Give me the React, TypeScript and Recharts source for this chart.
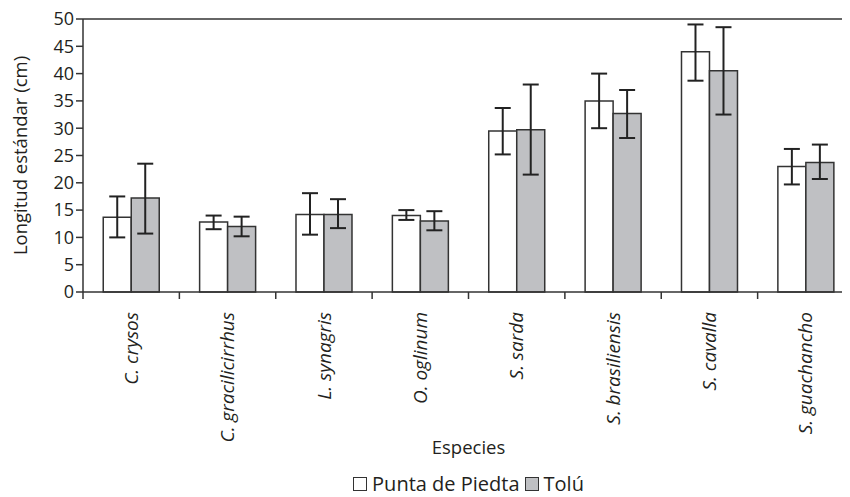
import {
  BarChart,
  Bar,
  XAxis,
  YAxis,
  ErrorBar,
  Legend,
  ReferenceLine,
} from "recharts";

const species = [
  "C. crysos",
  "C. gracilicirrhus",
  "L. synagris",
  "O. oglinum",
  "S. sarda",
  "S. brasiliensis",
  "S. cavalla",
  "S. guachancho",
];

// Punta de Piedta: media y limites de la barra de error
const punta = [13.7, 12.8, 14.2, 14.0, 29.5, 35.0, 44.0, 23.0];
const puntaLow = [10.0, 11.5, 10.5, 13.2, 25.2, 30.0, 38.7, 19.7];
const puntaHigh = [17.5, 14.0, 18.1, 15.0, 33.7, 40.0, 49.0, 26.2];

// Tolú
const tolu = [17.2, 12.0, 14.2, 13.0, 29.7, 32.7, 40.5, 23.7];
const toluLow = [10.7, 10.2, 11.7, 11.3, 21.5, 28.2, 32.5, 20.7];
const toluHigh = [23.5, 13.8, 17.0, 14.8, 38.0, 37.0, 48.5, 27.0];

const yTicks = [0, 5, 10, 15, 20, 25, 30, 35, 40, 45, 50];

const data = species.map((name, i) => ({
  name,
  punta: punta[i],
  puntaErr: [punta[i] - puntaLow[i], puntaHigh[i] - punta[i]],
  tolu: tolu[i],
  toluErr: [tolu[i] - toluLow[i], toluHigh[i] - tolu[i]],
}));

const FONT = "'Open Sans', sans-serif";
const INK = "#231f20";
const LINE = "#333";

function SpeciesTick(props: any) {
  const { x, y, width, visibleTicksCount, payload } = props;
  const half = width / visibleTicksCount / 2;
  return (
    <g>
      <line
        x1={x - half}
        x2={x - half}
        y1={y}
        y2={y + 7}
        stroke={LINE}
        strokeWidth={1.5}
      />
      <g transform={`translate(${x},${y})`}>
        <text
          transform="rotate(-90)"
          x={-20}
          y={0}
          dy="0.35em"
          textAnchor="end"
          fontStyle="italic"
          fontSize={19}
          fontFamily={FONT}
          fill={INK}
        >
          {payload.value}
        </text>
      </g>
    </g>
  );
}

function YLabel(props: any) {
  const { viewBox } = props;
  const cx = viewBox.x + 11;
  const cy = viewBox.y + viewBox.height / 2;
  return (
    <text
      x={cx}
      y={cy}
      transform={`rotate(-90, ${cx}, ${cy})`}
      textAnchor="middle"
      dominantBaseline="central"
      fontSize={18.5}
      fontFamily={FONT}
      fill={INK}
    >
      Longitud estándar (cm)
    </text>
  );
}

function LegendBox() {
  const box = (bg: string) => ({
    display: "inline-block",
    width: 12,
    height: 12,
    border: `1.5px solid ${LINE}`,
    background: bg,
    marginRight: 5,
  });
  return (
    <div
      style={{
        height: 22,
        lineHeight: 1,
        display: "flex",
        justifyContent: "center",
        alignItems: "center",
        fontFamily: FONT,
        fontSize: 20,
        color: INK,
      }}
    >
      <span style={box("#fff")} />
      <span style={{ marginRight: 5 }}>Punta de Piedta</span>
      <span style={box("#bfc0c3")} />
      <span>Tolú</span>
    </div>
  );
}

export default function App() {
  return (
    <div style={{ width: 842, overflow: "hidden", marginTop: -8 }}>
      <BarChart
        width={921}
        height={497}
        data={data}
        margin={{ top: 19, right: 75, left: 0, bottom: 2 }}
        barCategoryGap="21%"
        barGap={0}
      >
        <ReferenceLine y={50} stroke={LINE} strokeWidth={1.5} />
        <XAxis
          dataKey="name"
          height={181}
          interval={0}
          tickLine={false}
          tickSize={0}
          tickMargin={0}
          tick={<SpeciesTick />}
          axisLine={{ stroke: LINE, strokeWidth: 1.5 }}
          label={{
            value: "Especies",
            position: "insideBottom",
            offset: 19,
            fontSize: 18.5,
            fontFamily: FONT,
            fill: INK,
          }}
        />
        <YAxis
          width={75}
          domain={[0, 50]}
          ticks={yTicks}
          interval={0}
          tickSize={7}
          tickMargin={2}
          axisLine={{ stroke: LINE, strokeWidth: 1.5 }}
          tickLine={{ stroke: LINE, strokeWidth: 1.5 }}
          tick={{ fontSize: 18, fontFamily: FONT, fill: INK }}
          label={<YLabel />}
        />
        <Legend
          verticalAlign="bottom"
          content={<LegendBox />}
          wrapperStyle={{ left: 75, width: 771 }}
        />
        <Bar
          dataKey="punta"
          name="Punta de Piedta"
          fill="#fff"
          stroke={LINE}
          strokeWidth={1.5}
          isAnimationActive={false}
        >
          <ErrorBar
            dataKey="puntaErr"
            width={8}
            stroke="#222"
            strokeWidth={2}
          />
        </Bar>
        <Bar
          dataKey="tolu"
          name="Tolú"
          fill="#bfc0c3"
          stroke={LINE}
          strokeWidth={1.5}
          isAnimationActive={false}
        >
          <ErrorBar
            dataKey="toluErr"
            width={8}
            stroke="#222"
            strokeWidth={2}
          />
        </Bar>
      </BarChart>
    </div>
  );
}
